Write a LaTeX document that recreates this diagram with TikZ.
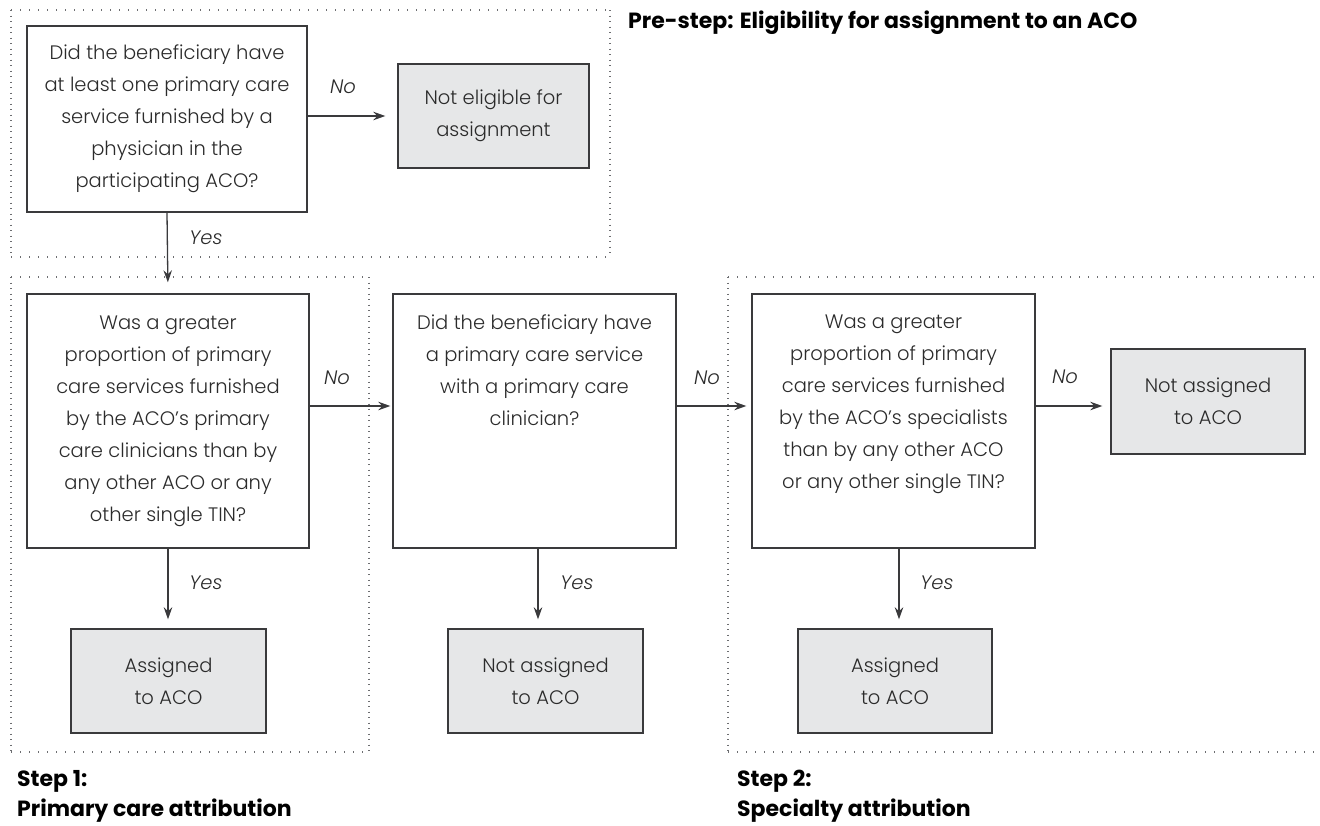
\documentclass[tikz,border=0pt]{standalone}
\usepackage{fontspec}
\setmainfont{Poppins}[UprightFont=* Light, ItalicFont=* Light Italic, BoldFont=* Bold, BoldItalicFont=* Bold Italic]
\usetikzlibrary{arrows.meta,calc}
\definecolor{boxline}{HTML}{3A3A3C}
\definecolor{boxfill}{HTML}{E6E7E8}
\definecolor{dotc}{HTML}{6D6E71}
\definecolor{txt}{HTML}{2B2B2B}
\begin{document}
\begin{tikzpicture}[x=1pt,y=-1pt,
  qbox/.style={draw=boxline, line width=1.4pt, rectangle, inner sep=0pt, align=center,
    text=txt, font=\fontsize{19.5}{32}\selectfont},
  gbox/.style={qbox, fill=boxfill},
  btext/.style={inner sep=0pt, align=center, text=txt, font=\fontsize{19.5}{32}\selectfont, anchor=north},
  lab/.style={inner sep=0pt, text=txt, font=\fontsize{19.5}{24}\selectfont\itshape},
  head/.style={inner sep=0pt, anchor=base west, font=\fontsize{22}{30}\selectfont\bfseries},
  arr/.style={draw=boxline, line width=1.3pt, -{Stealth[length=12pt,width=8.5pt]}},
  hdots/.style={draw=dotc, line width=1.2pt, dash pattern=on 1.3pt off 7.7pt},
  vdots/.style={draw=dotc, line width=1.2pt, dash pattern=on 1.3pt off 4.2pt}
]
\useasboundingbox (0,0) rectangle (1320,825);

% dotted frames
\draw[hdots] (11,10) -- (610,10);
\draw[hdots] (11,257) -- (610,257);
\draw[vdots] (11,10) -- (11,257);
\draw[vdots] (610,10) -- (610,257);

\draw[hdots] (11,277) -- (369,277);
\draw[hdots] (11,752) -- (369,752);
\draw[vdots] (11,277) -- (11,752);
\draw[vdots] (369,277) -- (369,752);

\draw[hdots] (728,277) -- (1320,277);
\draw[hdots] (728,752) -- (1320,752);
\draw[vdots] (728,277) -- (728,752);

% headings
\node[head] (pre) at (628,28) {Pre-step: Eligibility for assignment to an ACO};
\node[head] (s1a) at (17,786) {Step 1:};
\node[head] (s1b) at (17,816) {Primary care attribution};
\node[head] (s2a) at (737,786) {Step 2:};
\node[head] (s2b) at (737,816) {Specialty attribution};

% pre-step
\node[qbox, minimum width=280pt, minimum height=186pt] (q1) at (167,119)
  {Did the beneficiary have\\at least one primary care\\service furnished by a\\physician in the\\participating ACO?};
\node[gbox, minimum width=191pt, minimum height=104pt] (ne) at (493.5,116)
  {Not eligible for\\assignment};

% step 1
\node[qbox, minimum width=282pt, minimum height=254pt] (q2) at (168,421) {};
\node[btext] (q2t) at (168,316)
  {Was a greater\\proportion of primary\\care services furnished\\by the ACO’s primary\\care clinicians than by\\any other ACO or any\\other single TIN?};
\node[gbox, minimum width=195pt, minimum height=104pt] (as1) at (168.5,681) {Assigned\\to ACO};

% middle
\node[qbox, minimum width=283pt, minimum height=254pt] (q3) at (534.5,421) {};
\node[btext] (q3t) at (534.5,315)
  {Did the beneficiary have\\a primary care service\\with a primary care\\clinician?};
\node[gbox, minimum width=195pt, minimum height=104pt] (na1) at (545.5,681) {Not assigned\\to ACO};

% step 2
\node[qbox, minimum width=283pt, minimum height=254pt] (q4) at (893.5,421) {};
\node[btext] (q4t) at (893.5,315)
  {Was a greater\\proportion of primary\\care services furnished\\by the ACO’s specialists\\than by any other ACO\\or any other single TIN?};
\node[gbox, minimum width=194pt, minimum height=105pt] (na2) at (1208,401.5) {Not assigned\\to ACO};
\node[gbox, minimum width=194pt, minimum height=104pt] (as2) at (895,681) {Assigned\\to ACO};

% connectors
\draw[arr, shorten >=12pt] (q1.east |- ne.west) -- (ne.west);
\draw[arr, shorten >=11pt] (q1.south) -- (q2.north);
\draw[arr, shorten >=2pt] ([yshift=15pt]q2.east) -- ([yshift=15pt]q3.west);
\draw[arr, shorten >=5pt] ([yshift=15pt]q3.east) -- ([yshift=15pt]q4.west);
\draw[arr, shorten >=8pt] ([yshift=15pt]q4.east) -- ([yshift=15pt]q4.east -| na2.west);
\draw[arr, shorten >=9pt] (q2.south) -- (q2.south |- as1.north);
\draw[arr, shorten >=9pt] ([xshift=3.5pt]q3.south) -- ([xshift=3.5pt]q3.south |- na1.north);
\draw[arr, shorten >=9pt] ([xshift=5.5pt]q4.south) -- ([xshift=5.5pt]q4.south |- as2.north);

% labels
\node[lab] (n1) at (343,87) {No};
\node[lab] (y1) at (206,238) {Yes};
\node[lab] (n2) at (337,378) {No};
\node[lab] (n3) at (707,378) {No};
\node[lab] (n4) at (1065,377) {No};
\node[lab] (y2) at (206,583) {Yes};
\node[lab] (y3) at (577,583) {Yes};
\node[lab] (y4) at (937,583) {Yes};
\end{tikzpicture}
\end{document}
